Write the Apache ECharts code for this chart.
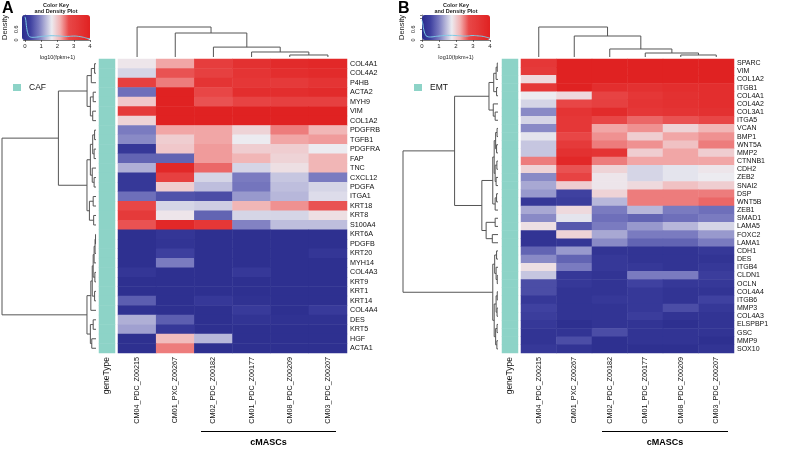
<!DOCTYPE html>
<html><head><meta charset="utf-8">
<script src="https://cdn.jsdelivr.net/npm/echarts@6/dist/echarts.min.js"></script>
<style>html,body{margin:0;padding:0;background:#fff}#c{width:788px;height:452px}</style>
</head><body><div id="c"></div>
<script>
const FONT = 'Liberation Sans, Arial, sans-serif';

// ---------- data ----------
const samples = ['CM04_PDC_Z00215','CM01_PXC_Z00267','CM02_PDC_Z00182','CM01_PDC_Z00177','CM08_PDC_Z00209','CM03_PDC_Z00207'];

const genesA = ['COL4A1','COL4A2','P4HB','ACTA2','MYH9','VIM','COL1A2','PDGFRB','TGFB1','PDGFRA','FAP','TNC','CXCL12','PDGFA','ITGA1','KRT18','KRT8','S100A4','KRT6A','PDGFB','KRT20','MYH14','COL4A3','KRT9','KRT1','KRT14','COL4A4','DES','KRT5','HGF','ACTA1'];
const valuesA = [
  [1.8, 2.3, 3.1, 3.5, 3.7, 3.8],
  [1.6, 2.7, 3.0, 3.4, 3.6, 3.7],
  [3.0, 2.5, 3.4, 3.3, 3.2, 3.4],
  [0.9, 4.0, 2.8, 3.6, 3.6, 3.7],
  [2.05, 4.0, 2.7, 2.9, 3.0, 3.0],
  [3.2, 4.0, 4.0, 4.0, 4.0, 4.0],
  [1.95, 4.0, 4.0, 4.0, 4.0, 4.0],
  [1.0, 2.3, 2.3, 1.95, 2.5, 2.2],
  [1.1, 2.0, 2.3, 1.75, 2.3, 2.35],
  [0.3, 2.05, 2.35, 2.0, 2.0, 1.75],
  [0.8, 0.8, 2.35, 2.2, 1.95, 2.2],
  [1.35, 3.8, 2.6, 1.6, 1.85, 2.2],
  [0.3, 3.0, 1.6, 1.0, 1.5, 1.0],
  [0.3, 2.0, 1.45, 0.95, 1.45, 1.6],
  [0.9, 0.65, 0.6, 1.2, 1.4, 1.65],
  [2.8, 1.6, 1.55, 2.2, 2.4, 2.7],
  [3.2, 1.8, 0.8, 1.6, 1.6, 1.85],
  [2.7, 3.8, 3.3, 1.05, 1.45, 1.45],
  [0.1, 0.25, 0.1, 0.1, 0.1, 0.1],
  [0.1, 0.2, 0.1, 0.1, 0.1, 0.1],
  [0.1, 0.45, 0.1, 0.1, 0.1, 0.25],
  [0.1, 1.0, 0.1, 0.1, 0.1, 0.1],
  [0.25, 0.1, 0.1, 0.3, 0.1, 0.1],
  [0.1, 0.1, 0.1, 0.1, 0.1, 0.1],
  [0.1, 0.1, 0.1, 0.1, 0.1, 0.1],
  [0.75, 0.1, 0.3, 0.15, 0.1, 0.1],
  [0.15, 0.1, 0.1, 0.35, 0.1, 0.35],
  [1.35, 0.75, 0.1, 0.2, 0.15, 0.15],
  [1.25, 0.3, 0.1, 0.1, 0.1, 0.1],
  [0.1, 2.15, 1.4, 0.1, 0.1, 0.1],
  [0.1, 2.5, 0.1, 0.1, 0.1, 0.1]
];

const genesB = ['SPARC','VIM','COL1A2','ITGB1','COL4A1','COL4A2','COL3A1','ITGA5','VCAN','BMP1','WNT5A','MMP2','CTNNB1','CDH2','ZEB2','SNAI2','DSP','WNT5B','ZEB1','SMAD1','LAMA5','FOXC2','LAMA1','CDH1','DES','ITGB4','CLDN1','OCLN','COL4A4','ITGB6','MMP3','COL4A3','ELSPBP1','GSC','MMP9','SOX10'];
const valuesB = [
  [3.3, 4.0, 4.0, 4.0, 4.0, 4.0],
  [3.2, 4.0, 4.0, 4.0, 4.0, 4.0],
  [1.9, 4.0, 4.0, 4.0, 4.0, 4.0],
  [3.3, 4.0, 3.6, 3.5, 3.6, 3.6],
  [1.75, 1.9, 2.9, 3.3, 3.5, 3.6],
  [1.6, 2.8, 3.0, 3.4, 3.5, 3.6],
  [1.1, 3.4, 3.7, 3.3, 3.4, 3.5],
  [1.6, 3.3, 2.8, 2.6, 2.7, 2.8],
  [1.1, 3.3, 2.3, 2.4, 1.95, 2.2],
  [1.7, 2.8, 2.4, 2.0, 2.3, 2.4],
  [1.5, 3.2, 2.5, 2.4, 2.1, 2.5],
  [1.5, 3.5, 3.4, 2.0, 2.3, 2.0],
  [2.5, 3.8, 2.5, 2.3, 2.3, 2.3],
  [1.95, 2.7, 1.95, 1.6, 1.7, 1.8],
  [1.1, 2.9, 1.8, 1.6, 1.7, 1.75],
  [1.3, 2.0, 1.8, 1.9, 2.1, 2.0],
  [1.2, 0.5, 1.95, 2.5, 2.5, 2.5],
  [0.3, 0.4, 1.4, 2.5, 2.5, 2.6],
  [1.3, 1.9, 1.0, 1.4, 1.0, 0.9],
  [1.1, 1.7, 0.9, 0.8, 0.9, 1.0],
  [1.85, 0.7, 1.0, 1.2, 1.4, 1.6],
  [0.2, 1.95, 1.3, 1.0, 1.0, 1.2],
  [0.2, 0.25, 1.1, 0.8, 0.8, 1.0],
  [0.8, 1.2, 0.2, 0.2, 0.2, 0.3],
  [1.1, 0.8, 0.3, 0.2, 0.2, 0.2],
  [1.85, 1.0, 0.3, 0.3, 0.2, 0.3],
  [1.5, 0.3, 0.2, 1.0, 1.0, 0.4],
  [0.6, 0.3, 0.2, 0.5, 0.3, 0.3],
  [0.6, 0.2, 0.2, 0.3, 0.2, 0.2],
  [0.3, 0.2, 0.3, 0.3, 0.2, 0.5],
  [0.5, 0.2, 0.2, 0.3, 0.6, 0.3],
  [0.4, 0.2, 0.2, 0.4, 0.2, 0.2],
  [0.3, 0.1, 0.2, 0.2, 0.1, 0.2],
  [0.2, 0.2, 0.6, 0.2, 0.2, 0.2],
  [0.2, 0.6, 0.1, 0.2, 0.2, 0.1],
  [0.3, 0.2, 0.1, 0.1, 0.1, 0.2]
];

// dendrograms: [mergeHeight, left, right]; integers = leaf index in display order
const colTreeA = [10, 0, [8.0, 1, [3.3, 2, [1.67, 3, [0.67, 4, 5]]]]];
const colTreeB = [10, 0, [7.0, 1, [2.67, 2, [1.33, 3, [0.67, 4, 5]]]]];
const rowTreeA = [10,
  [4.0,
    [0.95, [0.5, [0.15, 0, 1], 2], [0.6, [0.3, 3, 4], [0.35, 5, 6]]],
    [0.96, [0.6, [0.35, [0.15, 7, 8], [0.2, 9, 10]], [0.4, 11, [0.2, 12, 13]]], [0.7, [0.3, 14, 15], [0.25, 16, 17]]]],
  [0.96,
    [0.55, [0.4, [0.3, [0.2, [0.1, [0.05, 18, 19], 20], 21], [0.12, 22, 23]], [0.15, 24, 25]], 26],
    [0.6, [0.3, 27, 28], [0.45, 29, 30]]]];
const rowTreeB = [10,
  [4.57,
    [0.95, [0.45, [0.2, [0.08, 0, 1], 2], [0.15, 3, 4]], [0.5, 5, [0.3, 6, 7]]],
    [1.7,
      [0.55, [0.4, [0.25, [0.1, 8, 9], [0.15, 10, 11]], [0.3, [0.12, 12, 13], [0.2, 14, 15]]], [0.3, [0.15, 16, 17], 18]],
      [1.25, [0.3, 19, 20], [0.6, 21, 22]]]],
  [0.55,
    [0.35, [0.15, 23, 24], [0.2, 25, [0.08, 26, 27]]],
    [0.4, [0.2, [0.08, 28, 29], [0.1, 30, 31]], [0.25, [0.1, 32, 33], [0.12, 34, 35]]]]];

// colour-key density curves
const densX = [0, 0.05, 0.1, 0.2, 0.3, 0.5, 0.8, 1.0, 1.3, 1.6, 2.0, 2.3, 2.6, 3.0, 3.3, 3.6, 3.8, 4.0];
const densA = [1.3, 1.1, 0.7, 0.3, 0.18, 0.15, 0.17, 0.2, 0.22, 0.24, 0.23, 0.21, 0.2, 0.22, 0.2, 0.15, 0.1, 0.06];
const densB = [1.1, 0.9, 0.6, 0.3, 0.2, 0.17, 0.2, 0.22, 0.25, 0.26, 0.25, 0.23, 0.22, 0.25, 0.23, 0.2, 0.15, 0.1];

const heatColors = ['#2a2c8c','#343696','#3f41a0','#5c5eb0','#7a7bc0','#a0a0d0','#c6c6e0','#ecebf0','#efcdd0','#f2b0b0','#ed7c7c','#e84848','#e64040','#e53939','#e33131','#e22929','#e02222'];

// ---------- helpers ----------
function cells(vals) {
  const out = [];
  vals.forEach((row, r) => row.forEach((v, c) => out.push([c, r, v])));
  return out;
}
function dendroSegs(tree, rows) {
  const segs = [];
  (function walk(n) {
    if (typeof n === 'number') return {p: n, h: 0};
    const L = walk(n[1]), R = walk(n[2]), h = n[0];
    segs.push([L.p, L.h, L.p, h], [L.p, h, R.p, h], [R.p, R.h, R.p, h]);
    return {p: (L.p + R.p) / 2, h: h};
  })(tree);
  return rows ? segs.map(s => [s[1], s[0], s[3], s[2]]) : segs;
}
function segRender(params, api) {
  const a = api.coord([api.value(0), api.value(1)]);
  const b = api.coord([api.value(2), api.value(3)]);
  return {type: 'line', shape: {x1: a[0], y1: a[1], x2: b[0], y2: b[1]},
    style: {stroke: '#555555', lineWidth: 1}};
}

// ---------- layout ----------
const HT = 59, HH = 294;    // heatmap top / height

const grids = [], xAxes = [], yAxes = [], series = [];
function addGrid(g, xa, ya) {
  const i = grids.length;
  grids.push(Object.assign({containLabel: false}, g));
  xAxes.push(Object.assign({gridIndex: i}, xa));
  yAxes.push(Object.assign({gridIndex: i}, ya));
  return i;
}
const noLines = {axisLine: {show: false}, axisTick: {show: false}, splitLine: {show: false}};

function panel(L, genes, vals, colTree, rowTree, dens, label) {
  const gH = addGrid({left: L.heatLeft, top: HT, width: L.heatWidth, height: HH},
    Object.assign({type: 'category', data: samples, axisLabel: {rotate: 90, fontSize: 7.2, fontFamily: FONT, color: '#111', margin: 4, interval: 0}}, noLines),
    Object.assign({type: 'category', data: genes, inverse: true, position: 'right', axisLabel: {fontSize: L.geneFont, fontFamily: FONT, color: '#111', margin: 3, interval: 0}}, noLines));
  series.push({type: 'heatmap', name: 'heat' + label, xAxisIndex: gH, yAxisIndex: gH, data: cells(vals), emphasis: {disabled: true}, z: 2});
  const heatIdx = series.length - 1;
  // annotation bar
  const gA = addGrid({left: L.annLeft, top: HT, width: 16, height: HH},
    Object.assign({type: 'category', data: ['geneType'], axisLabel: {rotate: 90, fontSize: 8.5, fontFamily: FONT, color: '#111', margin: 4}}, noLines),
    Object.assign({type: 'category', data: genes, inverse: true, axisLabel: {show: false}}, noLines));
  series.push({type: 'heatmap', name: label, xAxisIndex: gA, yAxisIndex: gA, data: genes.map((g, i) => [0, i, 1]), emphasis: {disabled: true}});
  const annIdx = series.length - 1;
  // column dendrogram
  const gC = addGrid({left: L.heatLeft, top: 27, width: L.heatWidth, height: 30},
    Object.assign({type: 'value', min: -0.5, max: samples.length - 0.5, show: false}, noLines),
    Object.assign({type: 'value', min: 0, max: colTree[0], show: false}, noLines));
  series.push({type: 'custom', xAxisIndex: gC, yAxisIndex: gC, renderItem: segRender, data: dendroSegs(colTree, false), encode: {x: [0, 2], y: [1, 3]}, silent: true});
  // row dendrogram
  const gR = addGrid({left: L.dendLeft, top: HT, width: L.dendWidth, height: HH},
    Object.assign({type: 'value', min: 0, max: rowTree[0], inverse: true, show: false}, noLines),
    Object.assign({type: 'value', min: -0.5, max: genes.length - 0.5, inverse: true, show: false}, noLines));
  series.push({type: 'custom', xAxisIndex: gR, yAxisIndex: gR, renderItem: segRender, data: dendroSegs(rowTree, true), encode: {x: [0, 2], y: [1, 3]}, silent: true});
  // colour key density
  const gK = addGrid({left: L.keyLeft, top: 15, width: 68, height: 25},
    {type: 'value', min: 0, max: 4, interval: 1, offset: 1,
     axisLine: {show: true, lineStyle: {color: '#222', width: 0.6}},
     axisTick: {show: true, length: 2, lineStyle: {color: '#222', width: 0.6}},
     axisLabel: {fontSize: 6, fontFamily: FONT, color: '#222', margin: 2},
     splitLine: {show: false},
     name: 'log10(fpkm+1)', nameLocation: 'middle', nameGap: 13,
     nameTextStyle: {fontSize: 5.5, fontFamily: FONT, color: '#222'}},
    {type: 'value', min: 0, max: 1.4, interval: 0.6, offset: 4,
     axisLine: {show: true, lineStyle: {color: '#222', width: 0.6}},
     axisTick: {show: true, length: 2, lineStyle: {color: '#222', width: 0.6}},
     axisLabel: {fontSize: 5.5, fontFamily: FONT, color: '#222', margin: 2, rotate: 90,
       formatter: v => (v > 1 ? '' : String(v))},
     splitLine: {show: false},
     name: 'Density', nameLocation: 'middle', nameGap: 12, nameRotate: 90,
     nameTextStyle: {fontSize: 7.5, fontFamily: FONT, color: '#222'}});
  series.push({type: 'line', xAxisIndex: gK, yAxisIndex: gK, data: densX.map((x, i) => [x, dens[i]]),
    showSymbol: false, smooth: true, lineStyle: {color: '#7ccbe6', width: 1}, z: 20, silent: true});
  return {heatIdx, annIdx};
}

const layoutA = {heatLeft: 118, heatWidth: 229, annLeft: 99, dendLeft: 2, dendWidth: 94, keyLeft: 22, geneFont: 7.2};
const layoutB = {heatLeft: 521, heatWidth: 213, annLeft: 502, dendLeft: 403, dendWidth: 95, keyLeft: 422, geneFont: 7};

const pA = panel(layoutA, genesA, valuesA, colTreeA, rowTreeA, densA, 'CAF');
const pB = panel(layoutB, genesB, valuesB, colTreeB, rowTreeB, densB, 'EMT');

function keyMap(idx, left) {
  return {type: 'continuous', min: 0, max: 4, seriesIndex: idx, orient: 'horizontal',
    left: left, top: 15, itemWidth: 25, itemHeight: 68, padding: 0,
    calculable: false, hoverLink: false, text: null, showLabel: false,
    inRange: {color: heatColors}, textStyle: {fontSize: 1, color: 'transparent'}};
}

function texts(L, letterX, letter, legend, lineX1, lineX2) {
  const kc = L.keyLeft + 34;
  return [
    {type: 'text', left: letterX, top: 1, style: {text: letter, font: 'bold 16px ' + FONT, fill: '#000'}},
    {type: 'text', style: {x: kc, y: 5.5, text: 'Color Key', textAlign: 'center', textVerticalAlign: 'middle', font: 'bold 5.5px ' + FONT, fill: '#222'}},
    {type: 'text', style: {x: kc, y: 11, text: 'and Density Plot', textAlign: 'center', textVerticalAlign: 'middle', font: 'bold 5.5px ' + FONT, fill: '#222'}},
    {type: 'rect', shape: {x: L.dendLeft + 11, y: 84, width: 8, height: 7}, style: {fill: '#8dd3c7'}},
    {type: 'text', style: {x: L.dendLeft + 27, y: 88, text: legend, textVerticalAlign: 'middle', font: '8.5px ' + FONT, fill: '#111'}},
    {type: 'line', shape: {x1: lineX1, y1: 431.5, x2: lineX2, y2: 431.5}, style: {stroke: '#000', lineWidth: 1}},
    {type: 'text', style: {x: (lineX1 + lineX2) / 2, y: 443, text: 'cMASCs', textAlign: 'center', textVerticalAlign: 'middle', font: 'bold 9px ' + FONT, fill: '#000'}}
  ];
}

const chart = echarts.init(document.getElementById('c'), null, {renderer: 'canvas'});
chart.setOption({
  animation: false,
  backgroundColor: '#fff',
  grid: grids, xAxis: xAxes, yAxis: yAxes,
  visualMap: [
    keyMap(pA.heatIdx, layoutA.keyLeft),
    keyMap(pB.heatIdx, layoutB.keyLeft),
    {type: 'piecewise', show: false, seriesIndex: [pA.annIdx, pB.annIdx], pieces: [{value: 1, color: '#8dd3c7'}]}
  ],
  series: series,
  graphic: texts(layoutA, 2, 'A', 'CAF', 201, 336).concat(texts(layoutB, 398, 'B', 'EMT', 602, 728))
});
</script>
</body></html>
